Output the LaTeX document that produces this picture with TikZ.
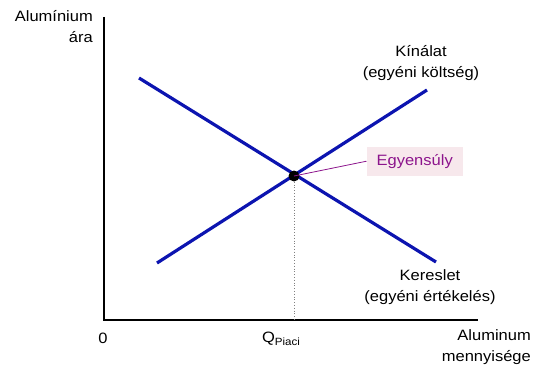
\documentclass[tikz,border=0pt]{standalone}
\usepackage{fontspec}
\setmainfont{Liberation Sans}[FakeStretch=1.1]
\definecolor{lineblue}{RGB}{12,20,176}
\definecolor{eqpurple}{RGB}{140,20,140}
\definecolor{eqfill}{RGB}{247,232,236}
\begin{document}
\begin{tikzpicture}[x=1pt,y=-1pt,
  lbl/.style={font=\fontsize{15}{21}\selectfont, inner sep=0pt, align=center},
  axisline/.style={line width=2.8pt, black},
  curve/.style={line width=3.2pt, lineblue},
  eqlabel/.style={font=\fontsize{15}{21}\selectfont, text=eqpurple, fill=eqfill, minimum width=96pt, minimum height=29pt, inner sep=0pt}]
\useasboundingbox (0,0) rectangle (534,366);
% axes
\coordinate (ytop) at (104,17);
\coordinate (orig) at (104,320);
\coordinate (xend) at (478,320);
\draw[axisline] (ytop) -- (orig) -- (xend);
% curves
\coordinate (s1) at (157,263);
\coordinate (s2) at (427,90);
\coordinate (d1) at (139,78);
\coordinate (d2) at (436,262);
\draw[curve] (s1) -- (s2);
\draw[curve] (d1) -- (d2);
% equilibrium
\coordinate (qfoot) at (294,319);
\node[circle, fill=black, minimum size=11pt, inner sep=0pt] (eq) at (294,176) {};
\draw[gray, dotted, line width=0.8pt] (eq) -- (qfoot);
\node[eqlabel] (eqbox) at (414.7,161.2) {Egyensúly};
\draw[eqpurple, line width=0.8pt] (eq.center) -- (eqbox.west);
% labels
\node[lbl, align=right, anchor=north east] (ylab) at (93,10) {Alumínium\\ára};
\node[lbl] (kin) at (421,63) {Kínálat\\(egyéni költség)};
\node[lbl] (ker) at (430,287) {Kereslet\\(egyéni értékelés)};
\node[lbl] (zero) at (103,338) {0};
\node[lbl] (qp) at (281,339) {Q\raisebox{-0.35ex}{\fontsize{10.5}{10}\selectfont Piaci}};
\node[lbl, align=right, anchor=north east] (xlab) at (531,329) {Aluminum\\mennyisége};
\end{tikzpicture}
\end{document}
